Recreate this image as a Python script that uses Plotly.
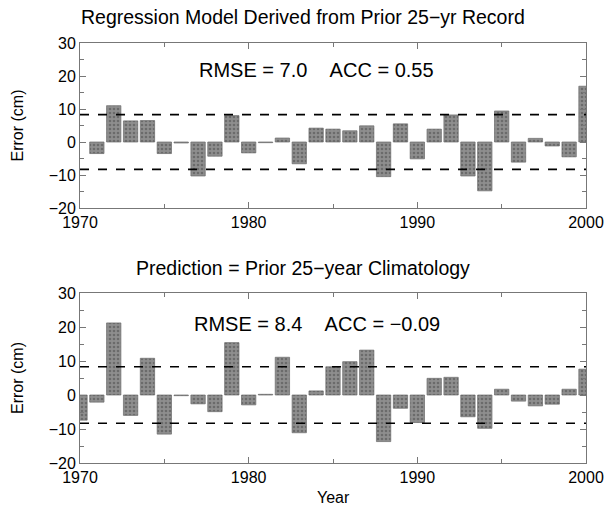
import plotly.graph_objects as go

years = list(range(1970, 2001))

# Top panel: regression model errors (cm)
regression_err = [None, -3.5, 11.0, 6.4, 6.5, -3.5, -0.3, -10.3, -4.3, 8.0,
                  -3.3, -0.2, 1.2, -6.6, 4.2, 3.9, 3.4, 4.9, -10.5, 5.5,
                  -5.1, 3.9, 8.2, -10.3, -14.8, 9.4, -6.1, 1.1, -1.2, -4.5, 16.9]

# Bottom panel: climatology errors (cm)
climatology_err = [-7.4, -2.1, 21.2, -6.0, 10.8, -11.5, -0.2, -2.6, -4.9, 15.4,
                   -2.9, 0.2, 11.1, -11.1, 1.2, 8.3, 9.8, 13.2, -13.7, -3.9,
                   -8.1, 4.9, 5.2, -6.4, -9.8, 1.7, -1.8, -3.2, -2.7, 1.7, 7.6]

threshold = 8.3
titles = ["Regression Model Derived from Prior 25\u2212yr Record",
          "Prediction = Prior 25\u2212year Climatology"]
stats = ["RMSE = 7.0\u00a0\u00a0\u00a0\u00a0ACC = 0.55",
         "RMSE = 8.4\u00a0\u00a0\u00a0\u00a0ACC = \u22120.09"]
y_title = "Error (cm)"
x_title = "Year"

FONT = "Liberation Sans, Arial, Helvetica, sans-serif"
bar_style = dict(color="#858585",
                 pattern=dict(shape=".", fgcolor="#474747", bgcolor="#8e8e8e",
                              size=4, solidity=0.35),
                 line=dict(width=0.7, color="#6a6a6a"))

fig = go.Figure()
fig.add_trace(go.Bar(x=years, y=regression_err, width=0.85, marker=bar_style,
                     xaxis="x", yaxis="y", showlegend=False, hoverinfo="skip"))
fig.add_trace(go.Bar(x=years, y=climatology_err, width=0.85, marker=bar_style,
                     xaxis="x2", yaxis="y2", showlegend=False, hoverinfo="skip"))

W, H = 606, 507


def xp(px):
    return px / W


def yp(py):
    return 1 - py / H


xdom = [xp(80), xp(586)]
ydoms = [[yp(208), yp(43)], [yp(463), yp(293)]]


def xax(anchor):
    return dict(domain=xdom, range=[1970, 2000], anchor=anchor, automargin=False,
                tickmode="linear", tick0=1970, dtick=10,
                ticks="inside", ticklen=6, tickcolor="#777",
                minor=dict(dtick=5, tick0=1970, ticks="inside", ticklen=4, tickcolor="#777"),
                showline=True, linecolor="#777", linewidth=1, mirror="ticks",
                showgrid=False, zeroline=False,
                tickfont=dict(size=16, color="black", family=FONT))


def yax(anchor, dom):
    return dict(domain=dom, range=[-20, 30], anchor=anchor, automargin=False,
                tickmode="linear", tick0=-20, dtick=10,
                ticks="inside", ticklen=6, tickcolor="#777",
                minor=dict(dtick=5, tick0=-20, ticks="inside", ticklen=4, tickcolor="#777"),
                showline=True, linecolor="#777", linewidth=1, mirror="ticks",
                showgrid=False, zeroline=False,
                tickfont=dict(size=16, color="black", family=FONT))


fig.update_layout(
    width=W, height=H,
    margin=dict(l=0, r=0, t=0, b=0),
    paper_bgcolor="white", plot_bgcolor="white",
    font=dict(family=FONT, color="black"),
    bargap=0,
    xaxis=xax("y"),
    yaxis=yax("x", ydoms[0]),
    xaxis2=xax("y2"),
    yaxis2=yax("x2", ydoms[1]),
)

shapes = []
for xr, yr in [("x", "y"), ("x2", "y2")]:
    for v in (threshold, -threshold):
        shapes.append(dict(type="line", xref=xr, yref=yr, x0=1970, x1=2000, y0=v, y1=v,
                           line=dict(color="black", width=1.6, dash="dash"), layer="above"))
fig.update_layout(shapes=shapes)

annotations = []
for i, (t, s) in enumerate(zip(titles, stats)):
    ty = [17, 268][i]
    sy = [70, 324][i]
    annotations.append(dict(text=t, xref="paper", yref="paper", x=xp(303), y=yp(ty),
                            xanchor="center", yanchor="middle", showarrow=False,
                            font=dict(size=19.5, color="black", family=FONT)))
    annotations.append(dict(text=s, xref="paper", yref="paper", x=xp(317), y=yp(sy),
                            xanchor="center", yanchor="middle", showarrow=False,
                            font=dict(size=20, color="black", family=FONT)))
    dom = ydoms[i]
    annotations.append(dict(text=y_title, xref="paper", yref="paper", x=xp(17),
                            y=(dom[0] + dom[1]) / 2, textangle=-90,
                            xanchor="center", yanchor="middle", showarrow=False,
                            font=dict(size=16, color="black", family=FONT)))
annotations.append(dict(text=x_title, xref="paper", yref="paper", x=xp(333), y=yp(497),
                        xanchor="center", yanchor="middle", showarrow=False,
                        font=dict(size=16, color="black", family=FONT)))
fig.update_layout(annotations=annotations)

fig.write_html(
    "out.html",
    config={"displayModeBar": False, "staticPlot": True},
    post_script="document.body.style.margin='0';document.body.style.padding='0';"
                "document.body.style.overflow='hidden';"
                "document.documentElement.style.overflow='hidden';",
)
